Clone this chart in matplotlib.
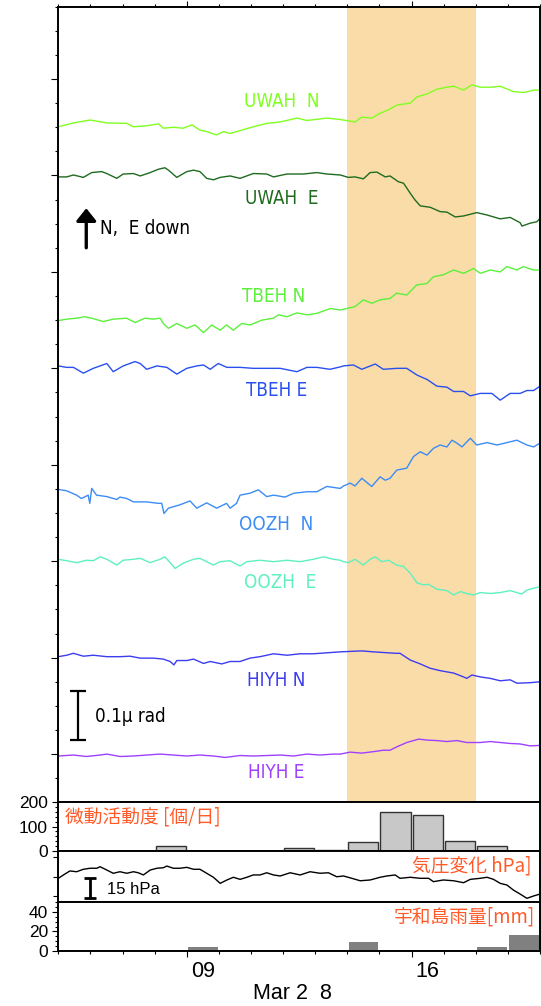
import numpy as np
import matplotlib
matplotlib.use('Agg')
import matplotlib.pyplot as plt
from matplotlib import font_manager
from matplotlib.transforms import blended_transform_factory

# tilt records: (day of March, tilt in micro-radian incl. plotting offset)
uwah_n = [(5.0, 1.401), (5.47, 1.409), (5.99, 1.415), (6.51, 1.409), (7.13, 1.408), (7.34, 1.401),
          (7.75, 1.403), (8.12, 1.407), (8.27, 1.398), (8.58, 1.400), (8.89, 1.398), (9.16, 1.405),
          (9.41, 1.394), (9.62, 1.391), (9.93, 1.384), (10.14, 1.391), (10.35, 1.387), (10.66, 1.393),
          (11.07, 1.401), (11.49, 1.408), (11.91, 1.411), (12.43, 1.419), (12.74, 1.414), (13.36, 1.419),
          (13.78, 1.416), (14.24, 1.411), (14.45, 1.421), (14.76, 1.419), (15.02, 1.429), (15.28, 1.436),
          (15.54, 1.446), (15.96, 1.450), (16.17, 1.463), (16.48, 1.469), (16.79, 1.479), (17.10, 1.483),
          (17.31, 1.485), (17.62, 1.477), (17.88, 1.488), (18.14, 1.483), (18.45, 1.483), (18.76, 1.485),
          (19.17, 1.474), (19.49, 1.472), (19.80, 1.477), (20.0, 1.477)]
uwah_e = [(5.0, 1.297), (5.26, 1.297), (5.47, 1.301), (5.78, 1.296), (6.04, 1.306), (6.35, 1.308),
          (6.51, 1.304), (6.82, 1.294), (7.02, 1.303), (7.34, 1.304), (7.55, 1.299), (7.86, 1.306),
          (8.12, 1.313), (8.32, 1.316), (8.43, 1.311), (8.69, 1.296), (9.0, 1.308), (9.21, 1.311),
          (9.41, 1.308), (9.62, 1.294), (9.83, 1.291), (10.04, 1.296), (10.35, 1.299), (10.66, 1.294),
          (11.07, 1.304), (11.49, 1.303), (11.70, 1.297), (12.12, 1.303), (12.63, 1.303), (13.05, 1.306),
          (13.36, 1.303), (13.78, 1.301), (14.03, 1.296), (14.24, 1.297), (14.50, 1.293), (14.71, 1.306),
          (14.92, 1.307), (15.18, 1.297), (15.33, 1.299), (15.59, 1.287), (15.75, 1.284), (15.96, 1.263),
          (16.11, 1.249), (16.27, 1.237), (16.58, 1.234), (16.89, 1.225), (17.10, 1.224), (17.36, 1.214),
          (17.62, 1.216), (18.03, 1.223), (18.35, 1.218), (18.76, 1.210), (19.07, 1.213), (19.38, 1.202),
          (19.44, 1.195), (19.69, 1.201), (19.90, 1.204), (20.0, 1.211)]
tbeh_n = [(5.0, 0.999), (5.26, 1.002), (5.57, 1.004), (5.83, 1.007), (6.04, 1.004), (6.40, 0.997),
          (6.71, 1.002), (7.13, 1.004), (7.39, 0.995), (7.70, 1.004), (7.96, 1.002), (8.17, 1.004),
          (8.27, 0.993), (8.43, 0.983), (8.69, 0.993), (9.0, 0.983), (9.26, 0.990), (9.52, 0.974),
          (9.78, 0.990), (10.04, 0.979), (10.24, 0.990), (10.45, 0.979), (10.71, 0.993), (10.97, 0.990),
          (11.34, 1.000), (11.70, 1.004), (11.86, 1.011), (12.12, 1.007), (12.43, 1.015), (12.74, 1.011),
          (13.05, 1.014), (13.47, 1.024), (13.78, 1.021), (13.98, 1.024), (14.24, 1.028), (14.50, 1.042),
          (14.76, 1.035), (15.02, 1.042), (15.33, 1.045), (15.54, 1.056), (15.85, 1.052), (16.16, 1.073),
          (16.48, 1.076), (16.68, 1.090), (16.99, 1.094), (17.31, 1.104), (17.62, 1.097), (17.93, 1.107),
          (18.14, 1.097), (18.45, 1.104), (18.76, 1.100), (18.97, 1.111), (19.28, 1.104), (19.48, 1.111),
          (19.80, 1.104), (20.0, 1.104)]
tbeh_e = [(5.0, 0.905), (5.26, 0.902), (5.47, 0.902), (5.78, 0.890), (6.09, 0.900), (6.51, 0.910),
          (6.71, 0.893), (7.02, 0.905), (7.39, 0.914), (7.55, 0.910), (7.75, 0.898), (8.07, 0.905),
          (8.38, 0.902), (8.69, 0.888), (9.0, 0.900), (9.31, 0.905), (9.52, 0.907), (9.73, 0.898),
          (9.98, 0.910), (10.25, 0.902), (10.66, 0.902), (11.07, 0.900), (11.49, 0.900), (11.91, 0.900),
          (12.43, 0.893), (12.74, 0.902), (13.05, 0.902), (13.46, 0.898), (13.78, 0.903), (13.88, 0.905),
          (14.19, 0.907), (14.45, 0.898), (14.87, 0.909), (15.12, 0.898), (15.54, 0.900), (15.85, 0.900),
          (16.17, 0.886), (16.48, 0.877), (16.79, 0.863), (17.10, 0.861), (17.31, 0.852), (17.62, 0.852),
          (17.83, 0.843), (18.14, 0.848), (18.50, 0.848), (18.76, 0.834), (19.07, 0.848), (19.38, 0.848),
          (19.59, 0.854), (19.80, 0.854), (20.0, 0.863)]
oozh_n = [(5.0, 0.649), (5.26, 0.646), (5.57, 0.637), (5.72, 0.630), (5.93, 0.637), (5.98, 0.620),
          (6.04, 0.651), (6.19, 0.637), (6.51, 0.634), (6.82, 0.628), (6.92, 0.633), (7.13, 0.630),
          (7.34, 0.623), (7.75, 0.623), (8.12, 0.620), (8.22, 0.620), (8.29, 0.599), (8.43, 0.610),
          (8.79, 0.617), (9.10, 0.625), (9.31, 0.610), (9.62, 0.621), (9.93, 0.610), (10.24, 0.620),
          (10.35, 0.610), (10.55, 0.620), (10.66, 0.637), (10.97, 0.641), (11.23, 0.648), (11.49, 0.634),
          (11.70, 0.637), (12.06, 0.633), (12.33, 0.641), (12.74, 0.644), (13.05, 0.644), (13.36, 0.655),
          (13.78, 0.651), (13.88, 0.656), (14.09, 0.662), (14.24, 0.656), (14.45, 0.672), (14.76, 0.655),
          (15.02, 0.675), (15.18, 0.668), (15.33, 0.672), (15.54, 0.689), (15.85, 0.693), (16.06, 0.717),
          (16.27, 0.727), (16.48, 0.720), (16.68, 0.734), (16.89, 0.741), (17.10, 0.737), (17.26, 0.751),
          (17.41, 0.745), (17.57, 0.737), (17.83, 0.755), (18.03, 0.741), (18.35, 0.746), (18.66, 0.741),
          (18.97, 0.746), (19.28, 0.751), (19.59, 0.741), (19.80, 0.737), (20.0, 0.745)]
oozh_e = [(5.0, 0.504), (5.26, 0.501), (5.57, 0.497), (5.88, 0.502), (6.09, 0.501), (6.30, 0.509),
          (6.51, 0.504), (6.82, 0.492), (7.02, 0.502), (7.34, 0.504), (7.55, 0.506), (7.86, 0.497),
          (8.17, 0.504), (8.32, 0.509), (8.48, 0.497), (8.64, 0.485), (8.89, 0.496), (9.21, 0.504),
          (9.41, 0.506), (9.62, 0.499), (9.83, 0.492), (10.04, 0.499), (10.35, 0.501), (10.66, 0.490),
          (10.87, 0.499), (11.28, 0.502), (11.70, 0.499), (12.12, 0.502), (12.53, 0.499), (12.94, 0.504),
          (13.26, 0.509), (13.57, 0.504), (13.78, 0.502), (13.88, 0.499), (14.03, 0.497), (14.24, 0.504),
          (14.50, 0.492), (14.71, 0.504), (14.87, 0.509), (15.07, 0.499), (15.28, 0.502), (15.54, 0.492),
          (15.75, 0.489), (15.96, 0.475), (16.17, 0.455), (16.37, 0.451), (16.53, 0.452), (16.79, 0.442),
          (17.10, 0.439), (17.31, 0.430), (17.52, 0.437), (17.72, 0.433), (17.93, 0.430), (18.14, 0.435),
          (18.45, 0.433), (18.76, 0.435), (19.07, 0.439), (19.43, 0.432), (19.59, 0.440), (19.80, 0.444),
          (20.0, 0.447)]
hiyh_n = [(5.0, 0.302), (5.26, 0.305), (5.47, 0.309), (5.78, 0.303), (6.09, 0.305), (6.51, 0.302),
          (6.92, 0.302), (7.23, 0.303), (7.55, 0.299), (7.96, 0.299), (8.27, 0.297), (8.48, 0.292),
          (8.60, 0.285), (8.69, 0.294), (9.0, 0.294), (9.21, 0.297), (9.52, 0.288), (9.73, 0.292),
          (10.09, 0.287), (10.35, 0.292), (10.66, 0.292), (10.97, 0.299), (11.28, 0.302), (11.70, 0.308),
          (12.12, 0.305), (12.53, 0.308), (12.94, 0.308), (13.36, 0.310), (13.78, 0.312), (14.45, 0.314),
          (14.81, 0.312), (15.28, 0.310), (15.49, 0.309), (15.64, 0.309), (15.96, 0.295), (16.27, 0.287),
          (16.58, 0.278), (16.89, 0.273), (17.31, 0.268), (17.62, 0.260), (17.72, 0.257), (17.88, 0.264),
          (18.14, 0.260), (18.45, 0.257), (18.76, 0.252), (19.07, 0.254), (19.28, 0.247), (19.69, 0.248),
          (20.0, 0.250)]
hiyh_e = [(5.0, 0.096), (5.47, 0.098), (5.88, 0.095), (6.30, 0.098), (6.51, 0.100), (6.92, 0.095),
          (7.34, 0.096), (7.75, 0.098), (8.17, 0.100), (8.58, 0.098), (9.0, 0.096), (9.41, 0.098),
          (9.83, 0.096), (10.19, 0.093), (10.66, 0.097), (11.07, 0.096), (11.49, 0.097), (11.91, 0.098),
          (12.33, 0.096), (12.74, 0.100), (13.15, 0.098), (13.57, 0.100), (13.78, 0.100), (14.09, 0.104),
          (14.45, 0.102), (14.81, 0.105), (15.12, 0.108), (15.33, 0.108), (15.54, 0.115), (15.85, 0.124),
          (16.22, 0.131), (16.48, 0.129), (16.79, 0.128), (17.10, 0.126), (17.41, 0.128), (17.72, 0.124),
          (18.14, 0.124), (18.45, 0.126), (18.76, 0.124), (19.07, 0.122), (19.38, 0.121), (19.69, 0.117),
          (20.0, 0.118)]

tilt_names = ['UWAH  N', 'UWAH  E', 'TBEH N', 'TBEH E', 'OOZH  N', 'OOZH  E', 'HIYH N', 'HIYH E']
tilt_colors = ['#80ff20', '#1f6b1f', '#5cf03c', '#2850f0', '#3c8cf5', '#5ff0c0', '#3c3cf0', '#a040ff']

# tremor activity (events per day)
tremor_days = [8, 12, 13, 14, 15, 16, 17, 18]
tremor_counts = [21, 12, 2, 35, 159, 149, 41, 19]

# air pressure (hPa)
pressure = [(5.0, 1008.6), (5.16, 1011.2), (5.36, 1014.3), (5.57, 1013.7), (5.78, 1015.6), (5.99, 1016.4),
            (6.20, 1016.4), (6.30, 1017.6), (6.51, 1015.0), (6.71, 1012.5), (6.92, 1013.7), (7.13, 1012.5),
            (7.34, 1013.7), (7.49, 1012.9), (7.65, 1011.2), (7.86, 1015.0), (8.07, 1016.4), (8.27, 1016.8),
            (8.38, 1018.1), (8.58, 1016.4), (8.79, 1016.4), (9.0, 1017.1), (9.21, 1015.6), (9.41, 1015.6),
            (9.62, 1012.5), (9.83, 1009.4), (10.04, 1004.7), (10.25, 1007.3), (10.45, 1009.4), (10.66, 1007.8),
            (10.87, 1009.4), (11.07, 1011.2), (11.28, 1011.2), (11.49, 1012.9), (11.70, 1011.2), (11.91, 1010.4),
            (12.22, 1012.9), (12.53, 1011.2), (12.84, 1013.7), (13.15, 1012.5), (13.41, 1012.9), (13.67, 1009.8),
            (13.88, 1010.4), (14.14, 1008.6), (14.40, 1006.7), (14.71, 1007.3), (15.02, 1009.4), (15.23, 1010.4),
            (15.49, 1011.2), (15.64, 1008.6), (15.96, 1009.4), (16.27, 1008.6), (16.53, 1008.6), (16.68, 1006.0),
            (16.99, 1007.3), (17.31, 1006.7), (17.62, 1005.2), (17.83, 1007.8), (18.14, 1008.6), (18.35, 1009.4),
            (18.55, 1007.8), (18.76, 1004.7), (18.97, 1003.4), (19.17, 999.5), (19.38, 996.4), (19.59, 993.1),
            (19.80, 994.9), (20.0, 996.4)]

# daily rain at Uwajima (mm)
rain_days = [9, 10, 14, 18, 19]
rain_mm = [4.1, 0.5, 8.7, 4.1, 16.3]

day_ticks = [9, 16]
day_labels = ['09', '16']

# label positions (day, value)
label_pos = [(11.97, 1.454), (11.97, 1.253), (11.72, 1.050), (11.81, 0.855),
             (11.77, 0.577), (11.92, 0.455), (11.78, 0.252), (11.78, 0.061)]

# narrow latin font if there is one, else plain DejaVu a bit smaller
has_cond = any(f.name == 'DejaVu Sans' and f.stretch in ('condensed', 'semi-condensed')
               for f in font_manager.fontManager.ttflist)
if has_cond:
    lfont = dict(family='DejaVu Sans', stretch='condensed', fontsize=13.5)
else:
    lfont = dict(family='DejaVu Sans', fontsize=12)
jp = ['Noto Sans CJK JP', 'DejaVu Sans']
orange = '#ff5a28'

fig = plt.figure(figsize=(5.41, 10.06), dpi=100)
L, W = 0.1078, 0.8904
ax = fig.add_axes([L, 0.20249, W, 0.79085])
axb = fig.add_axes([L, 0.15437, W, 0.04811])
axp = fig.add_axes([L, 0.10308, W, 0.05129])
axr = fig.add_axes([L, 0.05497, W, 0.04811])

for a in (ax, axb, axp, axr):
    a.set_xlim(5, 20)
    for s in a.spines.values():
        s.set_linewidth(1.4)
    a.tick_params(which='both', width=0.8, direction='out')
    a.set_xticks(day_ticks)
    a.set_xticks(range(5, 21), minor=True)
    a.tick_params(axis='x', which='both', bottom=False, labelbottom=False)
    a.tick_params(axis='x', which='major', length=4.5)
    a.tick_params(axis='x', which='minor', length=2.5)

# tilt panel
ax.axvspan(14, 18, color='#fadca8', lw=0, zorder=0)
series = [uwah_n, uwah_e, tbeh_n, tbeh_e, oozh_n, oozh_e, hiyh_n, hiyh_e]
for data, name, c, pos in zip(series, tilt_names, tilt_colors, label_pos):
    arr = np.array(data)
    ax.plot(arr[:, 0], arr[:, 1], color=c, lw=1.0)
    ax.text(pos[0], pos[1], name, color=c, ha='center', va='center', **lfont)
ax.set_ylim(0, 1.65)
ax.set_yticks(np.arange(0.1, 1.6, 0.2))
ax.set_yticks(np.arange(0, 1.66, 0.05), minor=True)
ax.tick_params(axis='y', which='major', length=5, labelleft=False)
ax.tick_params(axis='y', which='minor', length=2.5)
ax.tick_params(axis='x', which='both', top=True)

ax.errorbar(5.61, 0.18, yerr=0.05, color='k', capsize=6, lw=1.6, capthick=1.6)
ax.text(6.14, 0.177, '0.1µ rad', ha='left', va='center', **lfont)
ax.annotate('', xy=(5.87, 1.232), xytext=(5.87, 1.150),
            arrowprops=dict(arrowstyle='-|>,head_length=0.5,head_width=0.4', color='k', lw=2.4,
                            mutation_scale=15, shrinkA=0, shrinkB=0))
ax.text(6.30, 1.189, 'N,  E down', ha='left', va='center', **lfont)

# tremor panel
axb.bar(np.array(tremor_days) + 0.5, tremor_counts, width=0.94, color='#c8c8c8',
        edgecolor='#333333', lw=1)
axb.set_ylim(0, 200)
axb.set_yticks([0, 100, 200])
axb.set_yticks(np.arange(0, 201, 20), minor=True)
axb.tick_params(axis='y', which='major', length=4.5, pad=3, labelsize=12.5)
axb.tick_params(axis='y', which='minor', length=2.5)
axb.text(0.014, 0.69, '微動活動度 [個/日]', transform=axb.transAxes, color=orange,
         fontsize=13.5, ha='left', va='center', family=jp)

# pressure panel
arr = np.array(pressure)
axp.plot(arr[:, 0], arr[:, 1], color='k', lw=1.0)
axp.set_ylim(990, 1030)
axp.set_yticks([995, 1010, 1025])
axp.tick_params(axis='y', which='major', length=3.5, labelleft=False)
axp.errorbar(5.99, 1001, yerr=7.5, color='k', capsize=4, lw=2, capthick=2)
axp.text(6.51, 1000.1, '15 hPa', fontsize=12, ha='left', va='center', family=['Liberation Sans'])
axp.text(0.983, 0.70, '気圧変化 hPa]', transform=axp.transAxes, color=orange,
         fontsize=13.5, ha='right', va='center', family=jp)

# rain panel
axr.bar(np.array(rain_days) + 0.5, rain_mm, width=0.92, color='#808080', lw=0)
axr.set_ylim(0, 50)
axr.set_yticks([0, 20, 40])
axr.set_yticks(np.arange(0, 51, 5), minor=True)
axr.tick_params(axis='y', which='major', length=4.5, pad=3, labelsize=12.5)
axr.tick_params(axis='y', which='minor', length=2.5)
axr.tick_params(axis='x', which='both', bottom=True)
axr.text(0.99, 0.70, '宇和島雨量[mm]', transform=axr.transAxes, color=orange,
         fontsize=13.5, ha='right', va='center', family=jp)
tr = blended_transform_factory(axr.transData, axr.transAxes)
for d, lab in zip(day_ticks, day_labels):
    axr.text(d + 0.5, -0.434, lab, transform=tr, fontsize=15.5, ha='center', va='center',
             family=['Liberation Sans'])
axr.text(0.487, -0.88, 'Mar 2  8', transform=axr.transAxes, fontsize=15.5, ha='center',
         va='center', family=['Liberation Sans'])

for a in (axb, axr):
    for t in a.get_yticklabels():
        t.set_family('Liberation Sans')

fig.savefig('out.png', dpi=100)
